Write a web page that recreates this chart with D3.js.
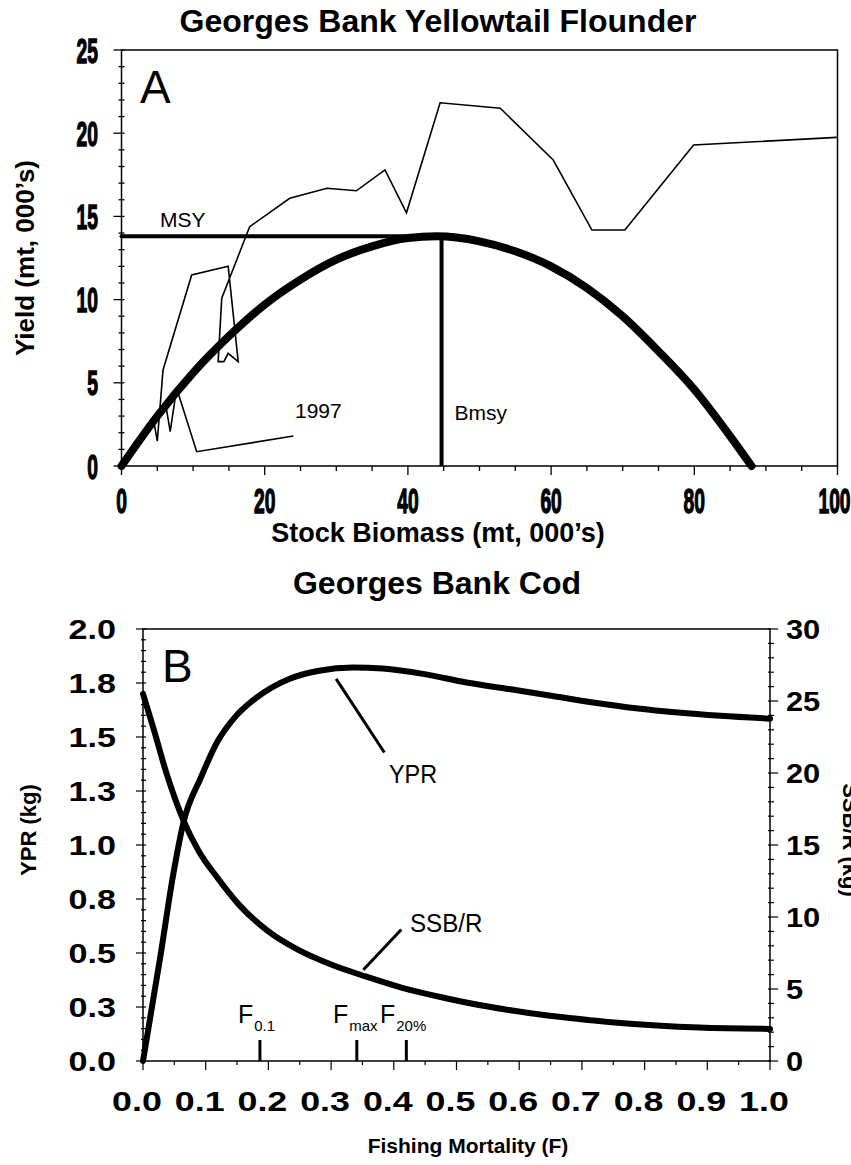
<!DOCTYPE html>
<html><head><meta charset="utf-8">
<script src="https://cdn.jsdelivr.net/npm/d3@7"></script>
<style>body{margin:0;background:#fff}svg{display:block}</style>
</head><body>
<svg id="c" width="851" height="1165"></svg>
<script>
// ---------- Panel A: Georges Bank Yellowtail Flounder ----------
const biomassTicks = [0, 20, 40, 60, 80, 100];
const yieldTicks = [0, 5, 10, 15, 20, 25];
const surplusBiomass = [0, 5, 10, 15, 20, 25, 30, 35, 40, 44, 50, 55, 60, 65, 70, 75, 80, 85, 88];
const surplusYield   = [0, 3.0, 5.6, 7.8, 9.7, 11.2, 12.4, 13.2, 13.7, 13.8, 13.5, 12.9, 12.0, 10.7, 9.0, 6.9, 4.6, 1.8, 0];
const obsBiomass = [99.9, 79.9, 70.3, 65.7, 60.3, 52.9, 44.5, 39.8, 36.8, 32.8, 28.7, 23.5, 17.9, 14.0, 13.5, 14.3, 14.9, 16.3, 14.9, 9.8, 5.8, 5.0, 4.4, 6.3, 6.8, 7.7, 10.5, 24.0];
const obsYield   = [19.75, 19.29, 14.18, 14.18, 18.39, 21.5, 21.83, 15.22, 17.79, 16.54, 16.69, 16.09, 14.38, 10.08, 6.27, 6.27, 6.77, 6.27, 12.0, 11.48, 5.77, 1.5, 2.96, 3.37, 2.06, 4.67, 0.86, 1.80];
const msyValue = 13.8;
const bmsyValue = 44.7;
const lastYearLabel = "1997";

// ---------- Panel B: Georges Bank Cod ----------
const fTicks = [0, 0.1, 0.2, 0.3, 0.4, 0.5, 0.6, 0.7, 0.8, 0.9, 1.0];
const yprTicks = [0, 0.25, 0.5, 0.75, 1.0, 1.25, 1.5, 1.75, 2.0];
const yprTickLabels = ["0.0", "0.3", "0.5", "0.8", "1.0", "1.3", "1.5", "1.8", "2.0"];
const ssbTicks = [0, 5, 10, 15, 20, 25, 30];
const yprF   = [0, 0.028, 0.048, 0.065, 0.092, 0.119, 0.146, 0.180, 0.234, 0.281, 0.335, 0.382, 0.449, 0.516, 0.584, 0.651, 0.718, 0.786, 0.853, 0.921, 1.0];
const yprVal = [0, 0.49, 0.86, 1.11, 1.31, 1.48, 1.59, 1.68, 1.77, 1.807, 1.822, 1.817, 1.791, 1.752, 1.722, 1.691, 1.660, 1.633, 1.613, 1.598, 1.585];
const ssbF   = [0, 0.018, 0.038, 0.065, 0.089, 0.119, 0.153, 0.2, 0.247, 0.301, 0.355, 0.415, 0.483, 0.55, 0.618, 0.685, 0.752, 0.82, 0.887, 1.0];
const ssbVal = [25.5, 22.9, 19.9, 16.66, 14.57, 12.71, 10.86, 9.0, 7.73, 6.68, 5.87, 5.06, 4.36, 3.78, 3.32, 2.97, 2.67, 2.46, 2.32, 2.23];
const refSub = ["0.1", "max", "20%"];
const refF = [0.1865, 0.341, 0.420];
const yprPointerF = [0.308, 0.385], yprPointerV = [1.769, 1.428];
const ssbPointerF = [0.3515, 0.412], ssbPointerV = [6.34, 9.13];

const FONT = "'Liberation Sans', Arial, Helvetica, sans-serif";
const svg = d3.select("#c");

function txt(g, x, y, s, size, weight, anchor, sx, rot) {
  return g.append("text")
    .attr("transform", `translate(${x},${y})` + (rot ? ` rotate(${rot})` : "") + ` scale(${sx || 1},1)`)
    .attr("font-family", FONT).attr("font-size", size)
    .attr("font-weight", weight || "normal")
    .attr("text-anchor", anchor || "start")
    .attr("fill", "#000").text(s);
}

// ===== Panel A =====
const xA = d3.scaleLinear().domain([0, 100]).range([121.5, 837.5]);
const yA = d3.scaleLinear().domain([0, 25]).range([466, 50]);
const gA = svg.append("g");

gA.append("rect").attr("x", xA(0)).attr("y", yA(25)).attr("width", xA(100) - xA(0)).attr("height", yA(0) - yA(25))
  .attr("fill", "none").attr("stroke", "#000").attr("stroke-width", 1.5);

d3.range(0, 26, 1).forEach(v => {
  const major = v % 5 === 0;
  gA.append("line").attr("x1", xA(0) - (major ? 8 : 3)).attr("x2", xA(0) + 3)
    .attr("y1", yA(v)).attr("y2", yA(v)).attr("stroke", "#000").attr("stroke-width", 1.3);
});
d3.range(0, 101, 5).forEach(v => {
  const major = v % 20 === 0;
  gA.append("line").attr("x1", xA(v)).attr("x2", xA(v))
    .attr("y1", yA(0)).attr("y2", yA(0) + (major ? 9 : 5)).attr("stroke", "#000").attr("stroke-width", 1.3);
});
yieldTicks.forEach(v => {
  txt(gA, 98, yA(v) + 12.5, String(v), 35, "bold", "end", 0.55)
    .attr("stroke", "#000").attr("stroke-width", 1.4);
});
biomassTicks.forEach(v => {
  const x = v === 100 ? xA(v) - 3 : xA(v);
  txt(gA, x, 513, String(v), 35, "bold", "middle", 0.55)
    .attr("stroke", "#000").attr("stroke-width", 1.4);
});

const obs = obsBiomass.map((b, i) => [b, obsYield[i]]);
gA.append("path").datum(obs)
  .attr("d", d3.line().x(d => xA(d[0])).y(d => yA(d[1])))
  .attr("fill", "none").attr("stroke", "#000").attr("stroke-width", 1.6).attr("stroke-linejoin", "miter");

const sp = surplusBiomass.map((b, i) => [b, surplusYield[i]]);
gA.append("path").datum(sp)
  .attr("d", d3.line().x(d => xA(d[0])).y(d => yA(d[1])).curve(d3.curveMonotoneX))
  .attr("fill", "none").attr("stroke", "#000").attr("stroke-width", 8).attr("stroke-linecap", "round");

gA.append("line").attr("x1", xA(0)).attr("x2", xA(bmsyValue)).attr("y1", yA(msyValue)).attr("y2", yA(msyValue))
  .attr("stroke", "#000").attr("stroke-width", 4).attr("stroke-linecap", "round");
gA.append("line").attr("x1", xA(bmsyValue)).attr("x2", xA(bmsyValue)).attr("y1", yA(0)).attr("y2", yA(msyValue))
  .attr("stroke", "#000").attr("stroke-width", 4);

txt(gA, 140, 103, "A", 46, "normal", "start");
txt(gA, 160, 227, "MSY", 21, "normal", "start");
txt(gA, 295, 418, lastYearLabel, 21, "normal", "start");
txt(gA, xA(bmsyValue) + 13, 420, "Bmsy", 21, "normal", "start");

txt(svg, 438, 32, "Georges Bank Yellowtail Flounder", 32, "bold", "middle");
txt(svg, 438, 542, "Stock Biomass (mt, 000\u2019s)", 27, "bold", "middle");
txt(svg, 34, 258, "Yield (mt, 000\u2019s)", 26, "bold", "middle", 1, -90);

// ===== Panel B =====
const xB = d3.scaleLinear().domain([0, 1]).range([143, 770]);
const yB = d3.scaleLinear().domain([0, 2]).range([1061, 629]);
const yB2 = d3.scaleLinear().domain([0, 30]).range([1061, 629]);
const gB = svg.append("g");

gB.append("rect").attr("x", xB(0)).attr("y", yB(2)).attr("width", xB(1) - xB(0)).attr("height", yB(0) - yB(2))
  .attr("fill", "none").attr("stroke", "#000").attr("stroke-width", 1.5);

d3.range(0, 41).forEach(i => {
  const v = i * 0.05;
  const major = i % 5 === 0;
  gB.append("line").attr("x1", xB(0) - (major ? 7 : 2)).attr("x2", xB(0) + 3)
    .attr("y1", yB(v)).attr("y2", yB(v)).attr("stroke", "#000").attr("stroke-width", 1.2);
});
d3.range(0, 31).forEach(v => {
  const major = v % 5 === 0;
  gB.append("line").attr("x1", xB(1) - 2).attr("x2", xB(1) + (major ? 8 : 4))
    .attr("y1", yB2(v)).attr("y2", yB2(v)).attr("stroke", "#000").attr("stroke-width", 1.2);
});
d3.range(0, 21).forEach(i => {
  const v = i * 0.05;
  const major = i % 2 === 0;
  gB.append("line").attr("x1", xB(v)).attr("x2", xB(v))
    .attr("y1", yB(0)).attr("y2", yB(0) + (major ? 9 : 4)).attr("stroke", "#000").attr("stroke-width", 1.2);
});

yprTicks.forEach((v, i) => txt(gB, 116, yB(v) + 10, yprTickLabels[i], 28, "bold", "end", 1.22));
ssbTicks.forEach(v => txt(gB, 786, yB2(v) + 10, String(v), 28, "bold", "start", 1.1));
fTicks.forEach(v => txt(gB, xB(v) - 6, 1111, v.toFixed(1), 28, "bold", "middle", 1.28));

const ypr = yprF.map((f, i) => [f, yprVal[i]]);
gB.append("path").datum(ypr)
  .attr("d", d3.line().x(d => xB(d[0])).y(d => yB(d[1])).curve(d3.curveMonotoneX))
  .attr("fill", "none").attr("stroke", "#000").attr("stroke-width", 6).attr("stroke-linecap", "round");
const ssb = ssbF.map((f, i) => [f, ssbVal[i]]);
gB.append("path").datum(ssb)
  .attr("d", d3.line().x(d => xB(d[0])).y(d => yB2(d[1])).curve(d3.curveMonotoneX))
  .attr("fill", "none").attr("stroke", "#000").attr("stroke-width", 6).attr("stroke-linecap", "round");

gB.append("line").attr("x1", xB(yprPointerF[0])).attr("y1", yB(yprPointerV[0]))
  .attr("x2", xB(yprPointerF[1])).attr("y2", yB(yprPointerV[1])).attr("stroke", "#000").attr("stroke-width", 3);
gB.append("line").attr("x1", xB(ssbPointerF[0])).attr("y1", yB2(ssbPointerV[0]))
  .attr("x2", xB(ssbPointerF[1])).attr("y2", yB2(ssbPointerV[1])).attr("stroke", "#000").attr("stroke-width", 3);
txt(gB, 389, 783, "YPR", 26, "normal", "start", 0.9);
txt(gB, 410, 932, "SSB/R", 26, "normal", "start", 0.93);

refF.forEach(f => {
  gB.append("line").attr("x1", xB(f)).attr("x2", xB(f)).attr("y1", yB(0)).attr("y2", yB(0) - 21)
    .attr("stroke", "#000").attr("stroke-width", 3);
});
const refLabelX = [238, 333, 380];
refLabelX.forEach((x, i) => {
  const t = gB.append("text").attr("x", x).attr("y", 1023)
    .attr("font-family", FONT).attr("font-size", 25).attr("fill", "#000");
  t.append("tspan").text("F");
  t.append("tspan").attr("font-size", 15).attr("dy", 8).attr("dx", 1).text(refSub[i]);
});

txt(gB, 162, 682, "B", 46, "normal", "start");

txt(svg, 437, 594, "Georges Bank Cod", 32, "bold", "middle");
txt(svg, 468, 1153, "Fishing Mortality (F)", 21, "bold", "middle");
txt(svg, 36, 830, "YPR (kg)", 22, "bold", "middle", 1, -90);
txt(svg, 843, 840, "SSB/R (kg)", 22, "bold", "middle", 1, 90);
</script>
</body></html>
